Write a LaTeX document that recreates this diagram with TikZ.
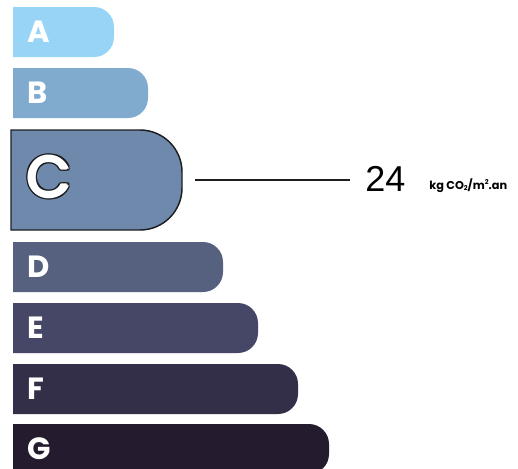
\documentclass[tikz,border=0pt]{standalone}
\usepackage{fontspec}
\setmainfont{Liberation Sans}
\newfontfamily\pop{Poppins}
\definecolor{cA}{HTML}{97D4F6}
\definecolor{cB}{HTML}{80ABCF}
\definecolor{cC}{HTML}{6E89AB}
\definecolor{cD}{HTML}{55617F}
\definecolor{cE}{HTML}{464766}
\definecolor{cF}{HTML}{342F49}
\definecolor{cG}{HTML}{251B2F}
\definecolor{cdark}{HTML}{1E1E22}
\tikzset{
  letterlbl/.style={anchor=west, inner sep=0pt, text=white, font=\pop\bfseries\fontsize{23}{23}\selectfont},
  bigC/.style={inner sep=0pt, font=\pop\fontsize{43}{43}\selectfont}
}
\begin{document}
\begin{tikzpicture}[x=0.75pt,y=-0.75pt]
\useasboundingbox (0,0) rectangle (518,468);
\clip (0,0) rectangle (518,468);
\fill[white] (0,0) rectangle (518,468);
% bars
\foreach \n/\t/\r/\c in {A/7/114/cA, B/68/148/cB, D/242/223/cD, E/303/258/cE, F/364/298/cF, G/424/329/cG}{
  \fill[\c] (13,\t) -- (\r-20,\t) arc[start angle=-90, end angle=0, radius=20] -- (\r,\t+30)
     arc[start angle=0, end angle=90, radius=20] -- (13,\t+50) -- cycle;
  \node[letterlbl] (l\n) at (27,\t+25) {\n};
}
% C bar
\filldraw[fill=cC, draw=cdark, line width=1.1pt] (11,130) -- (140,130) arc[start angle=-90, end angle=0, radius=42]
  -- (182,188) arc[start angle=0, end angle=90, radius=42] -- (11,230) -- cycle;
\foreach \a in {0,30,...,330}{
  \node[bigC, text=cdark, shift={(\a:2.7)}] (co\a) at (49,177) {C};
}
\foreach \a in {0,45,...,315}{
  \node[bigC, text=white, shift={(\a:1.2)}] (cw\a) at (49,177) {C};
}
\node[bigC, text=white] (lC) at (49,177) {C};
% value
\coordinate (Cend) at (195,180);
\node[anchor=west, inner ysep=0pt, inner xsep=11.25pt, font=\fontsize{27}{27}\selectfont] (val) at (350,179) {24};
\draw[cdark, line width=1.5pt] (Cend) -- (Cend -| val.west);
\node[anchor=base west, inner sep=0pt, font=\pop\bfseries\fontsize{8.5}{8.5}\selectfont] (unit) at (429,189)
  {kg CO\raisebox{-0.25ex}{\fontsize{5}{5}\selectfont 2}/m\raisebox{0.7ex}{\fontsize{5}{5}\selectfont 2}.an};
\end{tikzpicture}
\end{document}
